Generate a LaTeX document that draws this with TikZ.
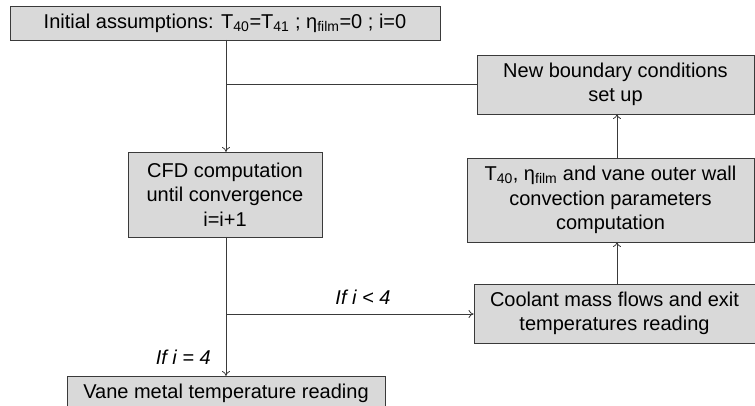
\documentclass[tikz,border=0pt]{standalone}
\usepackage{fontspec}
\setmainfont{Liberation Sans}
\usetikzlibrary{arrows.meta}
\definecolor{boxfill}{HTML}{D9D9D9}
\definecolor{boxline}{HTML}{3A3A3A}
\tikzset{
  procbox/.style={draw=boxline, fill=boxfill, line width=0.9pt, align=center,
    inner sep=0pt, font=\fontsize{20}{24.5}\selectfont},
  flow/.style={draw=boxline, line width=0.8pt, -{To[length=5pt,width=8pt]}},
  plainline/.style={draw=boxline, line width=0.8pt},
  cond/.style={font=\fontsize{20}{22}\selectfont\itshape, inner sep=0pt}
}
\begin{document}
\begin{tikzpicture}[x=1pt,y=-1pt]
\useasboundingbox (0,0) rectangle (755,406);
\node[procbox, minimum width=430pt, minimum height=34pt] (init) at (225,23)
  {Initial assumptions: T\textsubscript{40}=T\textsubscript{41} ; η\textsubscript{film}=0 ; i=0};
\node[procbox, minimum width=277pt, minimum height=59pt] (nbc) at (615.5,84.5)
  {New boundary conditions\\set up};
\node[procbox, minimum width=194pt, minimum height=85pt] (cfd) at (225,194.5)
  {CFD computation\\until convergence\\i=i+1};
\node[procbox, minimum width=287pt, minimum height=84pt] (t40) at (610.5,200)
  {T\textsubscript{40}, η\textsubscript{film} and vane outer wall\\convection parameters\\computation};
\node[procbox, minimum width=281pt, minimum height=59pt] (cool) at (614.5,313.5)
  {Coolant mass flows and exit\\temperatures reading};
\node[procbox, minimum width=318pt, minimum height=34pt] (vane) at (226,393)
  {Vane metal temperature reading};
\coordinate (join) at (226,84);
\coordinate (branch) at (226,314);
\draw[flow] (226,40) -- (226,152);
\draw[plainline] (nbc.west |- join) -- (join);
\draw[plainline] (226,237) -- (branch);
\draw[flow] (branch) -- (branch -| cool.west);
\draw[flow] (branch) -- (226,376);
\draw[flow] (617,284) -- (617,242);
\draw[flow] (617,158) -- (617,114);
\node[cond] (lt) at (363,297) {If i < 4};
\node[cond, anchor=east] (eq) at (211,357) {If i = 4};
\end{tikzpicture}
\end{document}
